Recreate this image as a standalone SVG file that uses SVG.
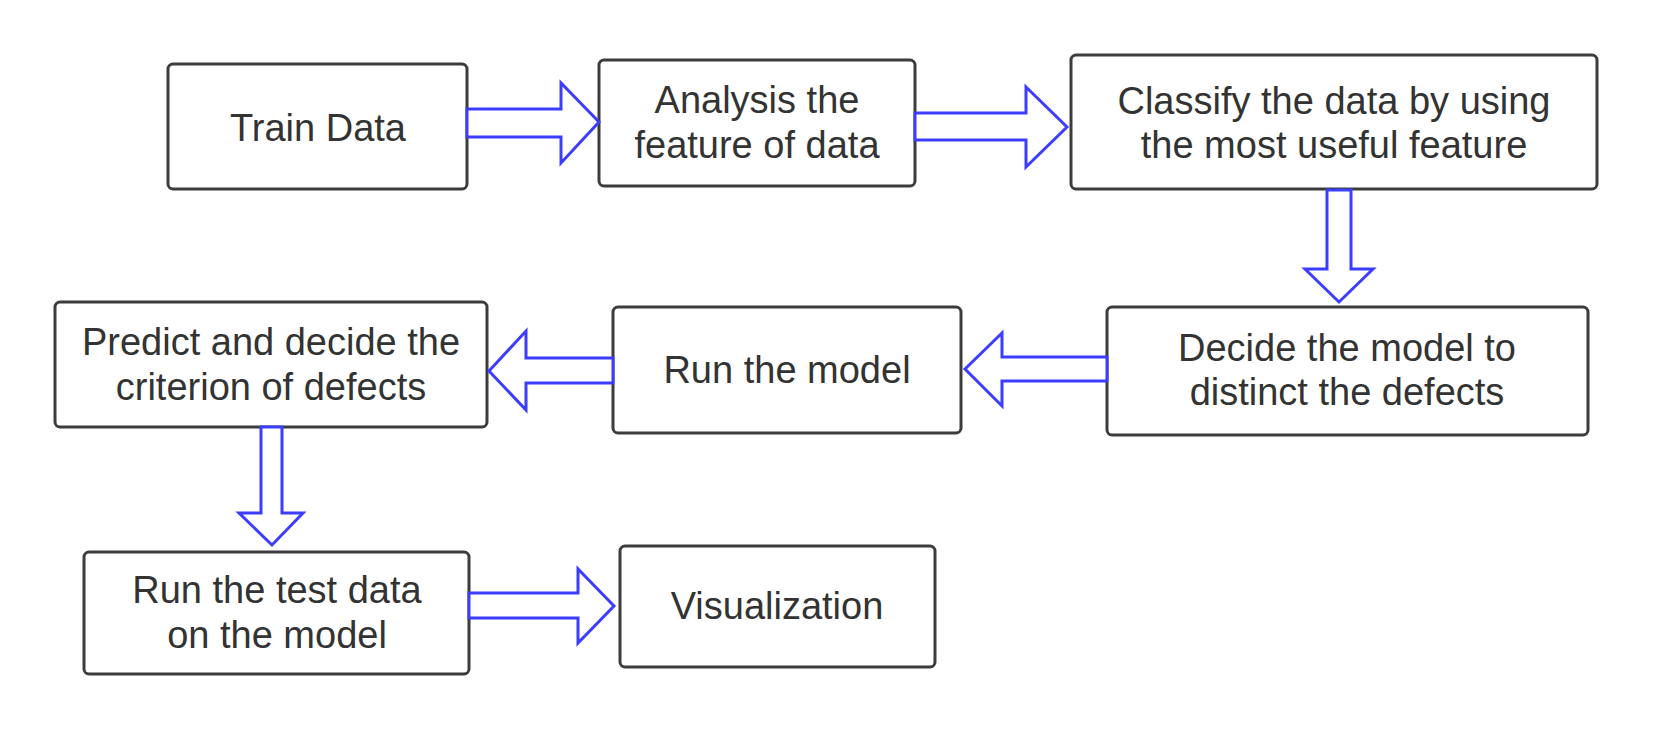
<svg xmlns="http://www.w3.org/2000/svg" width="1672" height="732" viewBox="0 0 1672 732">
<style>
.box{fill:#ffffff;stroke:#3c3c3c;stroke-width:3}
.lbl{font-family:"Liberation Sans",Arial,"DejaVu Sans",sans-serif;font-size:38px;fill:#333333;text-anchor:middle}
.arr{fill:#ffffff;stroke:#3d3dff;stroke-width:3;stroke-linejoin:miter}
</style>
<rect width="1672" height="732" fill="#ffffff"/>
<g id="n1"><rect class="box" x="168" y="64" width="299" height="125" rx="5"/><text class="lbl" x="318" y="141">Train Data</text></g>
<g id="n2"><rect class="box" x="599" y="60" width="316" height="126" rx="5"/><text class="lbl" x="757" y="113">Analysis the</text><text class="lbl" x="757" y="158">feature of data</text></g>
<g id="n3"><rect class="box" x="1071" y="55" width="526" height="134" rx="5"/><text class="lbl" x="1334" y="114">Classify the data by using</text><text class="lbl" x="1334" y="158">the most useful feature</text></g>
<g id="n4"><rect class="box" x="1107" y="307" width="481" height="128" rx="5"/><text class="lbl" x="1347" y="361">Decide the model to</text><text class="lbl" x="1347" y="405">distinct the defects</text></g>
<g id="n5"><rect class="box" x="613" y="307" width="348" height="126" rx="5"/><text class="lbl" x="787" y="383">Run the model</text></g>
<g id="n6"><rect class="box" x="55" y="302" width="432" height="125" rx="5"/><text class="lbl" x="271" y="355">Predict and decide the</text><text class="lbl" x="271" y="400">criterion of defects</text></g>
<g id="n7"><rect class="box" x="84" y="552" width="385" height="122" rx="5"/><text class="lbl" x="277" y="603">Run the test data</text><text class="lbl" x="277" y="648">on the model</text></g>
<g id="n8"><rect class="box" x="620" y="546" width="315" height="121" rx="5"/><text class="lbl" x="777" y="619">Visualization</text></g>
<g id="connectors">
<polygon class="arr" points="467,109 561,109 561,83 599,122 561,163 561,137 467,137"/>
<polygon class="arr" points="915,113 1026,113 1026,87 1067,127 1026,167 1026,140 915,140"/>
<polygon class="arr" points="1327,190 1351,190 1351,269 1373,269 1339,302 1305,269 1327,269"/>
<polygon class="arr" points="1107,357 1002,357 1002,333 965,369 1002,406 1002,381 1107,381"/>
<polygon class="arr" points="613,358 526,358 526,331 489,371 526,410 526,383 613,383"/>
<polygon class="arr" points="261,427 282,427 282,513 303,513 272,545 239,513 261,513"/>
<polygon class="arr" points="469,593 578,593 578,569 614,606 578,643 578,618 469,618"/>
</g>
</svg>
